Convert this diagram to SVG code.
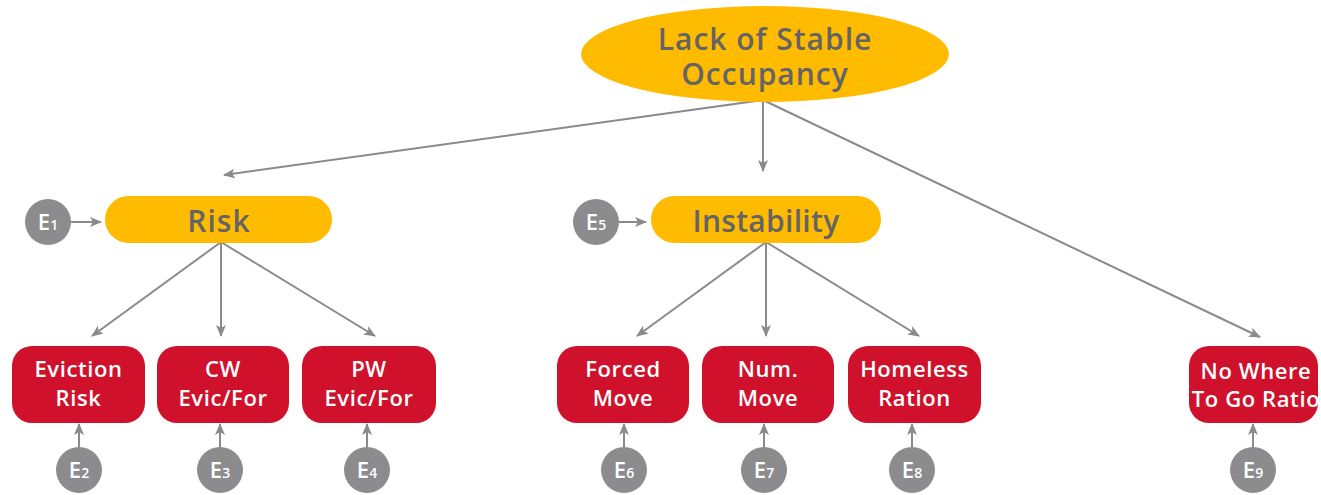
<svg xmlns="http://www.w3.org/2000/svg" width="1321" height="495" viewBox="0 0 1321 495">
<style>
.conn line{stroke:#8a8a8e;stroke-width:2;fill:none}
.y{fill:#FFBB00}
.r{fill:#D0112B}
.e{fill:#8c8c8f}
.tg{font-family:"Open Sans","Liberation Sans",sans-serif;font-weight:600;fill:#646466;text-anchor:middle}
.tw{font-family:"Open Sans","Liberation Sans",sans-serif;font-weight:600;fill:#ffffff;text-anchor:middle;font-size:22px;letter-spacing:0.6px}
.te{font-family:"Open Sans","Liberation Sans",sans-serif;font-weight:600;fill:#ffffff;text-anchor:middle;font-size:22px}
.sub{font-size:14px}
</style>
<defs>
<marker id="ah" viewBox="0 0 12 10" refX="11" refY="5" markerWidth="12" markerHeight="10" markerUnits="userSpaceOnUse" orient="auto">
<path d="M0,0 L12,5 L0,10 L3,5 Z" fill="#8a8a8e"/>
</marker>
<clipPath id="clip9"><rect x="1189" y="346" width="129" height="77" rx="20"/></clipPath>
</defs>
<g id="connectors" class="conn">
<line x1="763" y1="100" x2="224" y2="175" marker-end="url(#ah)"/>
<line x1="763" y1="100" x2="763" y2="171" marker-end="url(#ah)"/>
<line x1="763" y1="100" x2="1260" y2="337" marker-end="url(#ah)"/>
<line x1="221" y1="242" x2="92" y2="336" marker-end="url(#ah)"/>
<line x1="221" y1="242" x2="221" y2="336" marker-end="url(#ah)"/>
<line x1="221" y1="242" x2="375" y2="336" marker-end="url(#ah)"/>
<line x1="766" y1="242" x2="637" y2="336" marker-end="url(#ah)"/>
<line x1="766" y1="242" x2="766" y2="336" marker-end="url(#ah)"/>
<line x1="766" y1="242" x2="919" y2="336" marker-end="url(#ah)"/>
<line x1="71" y1="222" x2="101" y2="222" marker-end="url(#ah)"/>
<line x1="619" y1="222" x2="646" y2="222" marker-end="url(#ah)"/>
<line x1="79" y1="447" x2="79" y2="424" marker-end="url(#ah)"/>
<line x1="220" y1="447" x2="220" y2="424" marker-end="url(#ah)"/>
<line x1="367" y1="447" x2="367" y2="424" marker-end="url(#ah)"/>
<line x1="624" y1="447" x2="624" y2="424" marker-end="url(#ah)"/>
<line x1="764" y1="447" x2="764" y2="424" marker-end="url(#ah)"/>
<line x1="912" y1="447" x2="912" y2="424" marker-end="url(#ah)"/>
<line x1="1253" y1="447" x2="1253" y2="424" marker-end="url(#ah)"/>
</g>
<g id="root">
<ellipse class="y" cx="765" cy="54" rx="184" ry="48"/>
<text class="tg" x="765" y="50" font-size="30" letter-spacing="1">Lack of Stable</text>
<text class="tg" x="765" y="85" font-size="30" letter-spacing="1">Occupancy</text>
</g>
<g id="risk">
<rect class="y" x="105" y="196" width="227" height="47" rx="23.5"/>
<text class="tg" x="219" y="232" font-size="30" letter-spacing="1">Risk</text>
</g>
<g id="instability">
<rect class="y" x="651" y="196" width="230" height="47" rx="23.5"/>
<text class="tg" x="766" y="232" font-size="30" letter-spacing="0.3">Instability</text>
</g>
<g id="eviction-risk">
<rect class="r" x="12" y="346" width="133" height="77" rx="20"/>
<text class="tw" x="78.5" y="377">Eviction</text>
<text class="tw" x="78.5" y="406">Risk</text>
</g>
<g id="cw-evic">
<rect class="r" x="157" y="346" width="132" height="77" rx="20"/>
<text class="tw" x="223" y="377">CW</text>
<text class="tw" x="223" y="406">Evic/For</text>
</g>
<g id="pw-evic">
<rect class="r" x="302" y="346" width="134" height="77" rx="20"/>
<text class="tw" x="369" y="377">PW</text>
<text class="tw" x="369" y="406">Evic/For</text>
</g>
<g id="forced-move">
<rect class="r" x="557" y="346" width="132" height="77" rx="20"/>
<text class="tw" x="623" y="377">Forced</text>
<text class="tw" x="623" y="406">Move</text>
</g>
<g id="num-move">
<rect class="r" x="702" y="346" width="132" height="77" rx="20"/>
<text class="tw" x="768" y="377">Num.</text>
<text class="tw" x="768" y="406">Move</text>
</g>
<g id="homeless-ration">
<rect class="r" x="848" y="346" width="133" height="77" rx="20"/>
<text class="tw" x="914.5" y="377">Homeless</text>
<text class="tw" x="914.5" y="406">Ration</text>
</g>
<g id="no-where">
<rect class="r" x="1189" y="346" width="129" height="77" rx="20"/>
<g clip-path="url(#clip9)">
<text class="tw" x="1256" y="379">No Where</text>
<text class="tw" x="1256" y="407">To Go Ratio</text>
</g>
</g>
<g id="e1"><circle class="e" cx="48" cy="222" r="23"/><text class="te" x="48" y="230">E<tspan class="sub">1</tspan></text></g>
<g id="e5"><circle class="e" cx="596" cy="222" r="23"/><text class="te" x="596" y="230">E<tspan class="sub">5</tspan></text></g>
<g id="e2"><circle class="e" cx="79" cy="470" r="23"/><text class="te" x="79" y="478">E<tspan class="sub">2</tspan></text></g>
<g id="e3"><circle class="e" cx="220" cy="470" r="23"/><text class="te" x="220" y="478">E<tspan class="sub">3</tspan></text></g>
<g id="e4"><circle class="e" cx="367" cy="470" r="23"/><text class="te" x="367" y="478">E<tspan class="sub">4</tspan></text></g>
<g id="e6"><circle class="e" cx="624" cy="470" r="23"/><text class="te" x="624" y="478">E<tspan class="sub">6</tspan></text></g>
<g id="e7"><circle class="e" cx="764" cy="470" r="23"/><text class="te" x="764" y="478">E<tspan class="sub">7</tspan></text></g>
<g id="e8"><circle class="e" cx="912" cy="470" r="23"/><text class="te" x="912" y="478">E<tspan class="sub">8</tspan></text></g>
<g id="e9"><circle class="e" cx="1253" cy="470" r="23"/><text class="te" x="1253" y="478">E<tspan class="sub">9</tspan></text></g>
</svg>
